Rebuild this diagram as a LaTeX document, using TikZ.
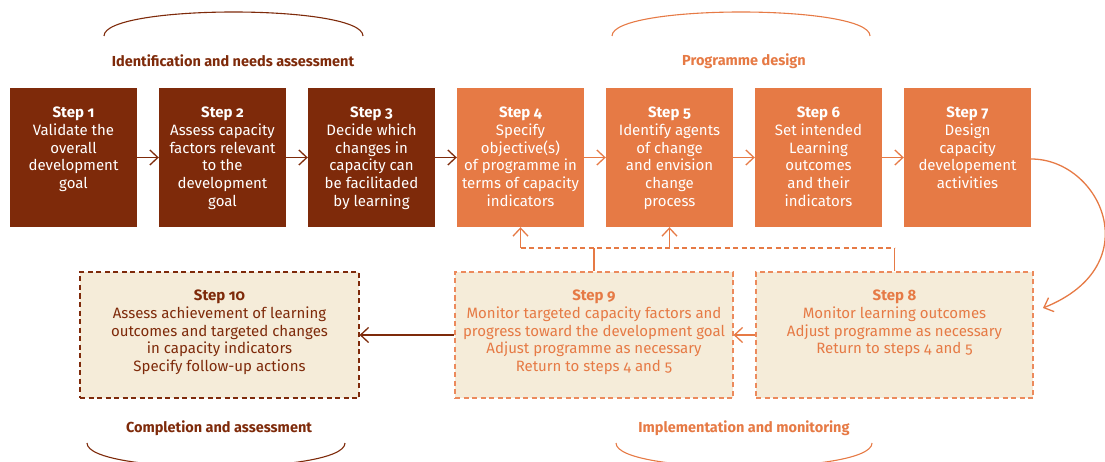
\documentclass[tikz,border=0pt]{standalone}
\usepackage{fontspec}
\setmainfont{Fira Sans}[Numbers=OldStyle]
\usetikzlibrary{arrows.meta}
\definecolor{brn}{RGB}{126,42,10}
\definecolor{org}{RGB}{230,122,69}
\definecolor{orgl}{RGB}{236,138,92}
\definecolor{beige}{RGB}{245,236,217}
\begin{document}
\begin{tikzpicture}[x=1pt,y=-1pt,
  topbox/.style={rectangle, draw=none, minimum width=127pt, minimum height=139pt, inner sep=0pt},
  darkbox/.style={topbox, fill=brn},
  orbox/.style={topbox, fill=org},
  botbox/.style={rectangle, minimum height=126pt, inner sep=0pt, fill=beige, dash pattern=on 5pt off 3.5pt, line width=1.2pt},
  txt/.style={anchor=north, align=center, inner sep=0pt, font=\fontsize{15}{17.7}\selectfont},
  phase/.style={font=\fontsize{14.5}{16}\selectfont\bfseries, inner sep=0pt},
  arc/.style={line width=1.1pt},
  conn/.style={line width=1.3pt, -{Straight Barb[length=8pt,width=15pt,line width=1.3pt]}},
  fb/.style={line width=1.2pt},
]
\useasboundingbox (0,0) rectangle (1105,462);
\clip (0,0) rectangle (1105,462);

% top row
\node[darkbox] (s1) at (73.5,157.5) {};
\node[darkbox] (s2) at (222.5,157.5) {};
\node[darkbox] (s3) at (371.5,157.5) {};
\node[orbox] (s4) at (520.5,157.5) {};
\node[orbox] (s5) at (669.5,157.5) {};
\node[orbox] (s6) at (818.5,157.5) {};
\node[orbox] (s7) at (967.5,157.5) {};

\node[txt, text=white] (t1) at ([yshift=-19pt]s1.north) {\textbf{Step 1}\\Validate the\\overall\\development\\goal};
\node[txt, text=white] (t2) at ([yshift=-19pt]s2.north) {\textbf{Step 2}\\Assess capacity\\factors relevant\\to the\\development\\goal};
\node[txt, text=white] (t3) at ([yshift=-19pt]s3.north) {\textbf{Step 3}\\Decide which\\changes in\\capacity can\\be facilitaded\\by learning};
\node[txt, text=white] (t4) at ([yshift=-19pt]s4.north) {\textbf{Step 4}\\Specify\\objective(s)\\of programme in\\terms of capacity\\indicators};
\node[txt, text=white] (t5) at ([yshift=-19pt]s5.north) {\textbf{Step 5}\\Identify agents\\of change\\and envision\\change\\process};
\node[txt, text=white] (t6) at ([yshift=-19pt]s6.north) {\textbf{Step 6}\\Set intended\\Learning\\outcomes\\and their\\indicators};
\node[txt, text=white] (t7) at ([yshift=-19pt]s7.north) {\textbf{Step 7}\\Design\\capacity\\developement\\activities};

% bottom row
\node[botbox, draw=brn, minimum width=279pt] (s10) at (219.5,335) {};
\node[botbox, draw=orgl, minimum width=278pt] (s9) at (594,335) {};
\node[botbox, draw=orgl, minimum width=277pt] (s8) at (894.5,335) {};

\node[txt, text=brn] (t10) at ([yshift=-18.5pt]s10.north) {\textbf{Step 10}\\Assess achievement of learning\\outcomes and targeted changes\\in capacity indicators\\Specify follow-up actions};
\node[txt, text=org] (t9) at ([yshift=-18.5pt]s9.north) {\textbf{Step 9}\\Monitor targeted capacity factors and\\progress toward the development goal\\Adjust programme as necessary\\Return to steps 4 and 5};
\node[txt, text=org] (t8) at ([yshift=-18.5pt]s8.north) {\textbf{Step 8}\\Monitor learning outcomes\\Adjust programme as necessary\\Return to steps 4 and 5};

% connectors top row
\draw[conn, brn] (s1) -- (s2);
\draw[conn, brn] (s2) -- (s3);
\draw[conn, brn] (s3) -- (s4);
\draw[conn, org] (s4) -- (s5);
\draw[conn, org] (s5) -- (s6);
\draw[conn, org] (s6) -- (s7);

% step 7 to step 8
\coordinate (c7) at (s7.east |- 0,159);
\coordinate (c8) at (1043,308);
\draw[conn, org] (c7) .. controls (1100,159) and (1150,265) .. (c8);

% bottom arrows
\draw[conn, org] (s8) -- (s9);
\draw[conn, brn] (s9) -- (s10);

% feedback
\coordinate (f4) at (s4.south |- 0,248);
\coordinate (f5) at (s5.south |- 0,248);
\coordinate (f9) at (s9.north |- 0,248);
\coordinate (f8) at (s8.north |- 0,248);
\draw[fb, org, dash pattern=on 5pt off 3.5pt] (f4) -- (f8);
\draw[fb, org] (s9.north) -- (f9);
\draw[fb, org] (s8.north) -- (f8);
\draw[conn, org] (f4) -- (s4.south);
\draw[conn, org] (f5) -- (s5.south);

% phase labels
\node[phase, text=brn] (p1) at (233,61) {Identification and needs assessment};
\node[phase, text=org] (p2) at (744,61) {Programme design};
\node[phase, text=brn] (p3) at (219,428) {Completion and assessment};
\node[phase, text=org] (p4) at (744,428) {Implementation and monitoring};

% braces
\coordinate (a1l) at (104,36); \coordinate (a1r) at (363,36);
\coordinate (a2l) at (612,36); \coordinate (a2r) at (870,36);
\coordinate (a3l) at (87,443); \coordinate (a3r) at (345,443);
\coordinate (a4l) at (616,443); \coordinate (a4r) at (872,443);
\draw[arc, brn] (a1l) .. controls (104,4) and (363,4) .. (a1r);
\draw[arc, org] (a2l) .. controls (612,4) and (870,4) .. (a2r);
\draw[arc, brn] (a3l) .. controls (87,475) and (345,475) .. (a3r);
\draw[arc, org] (a4l) .. controls (616,475) and (872,475) .. (a4r);
\end{tikzpicture}
\end{document}
